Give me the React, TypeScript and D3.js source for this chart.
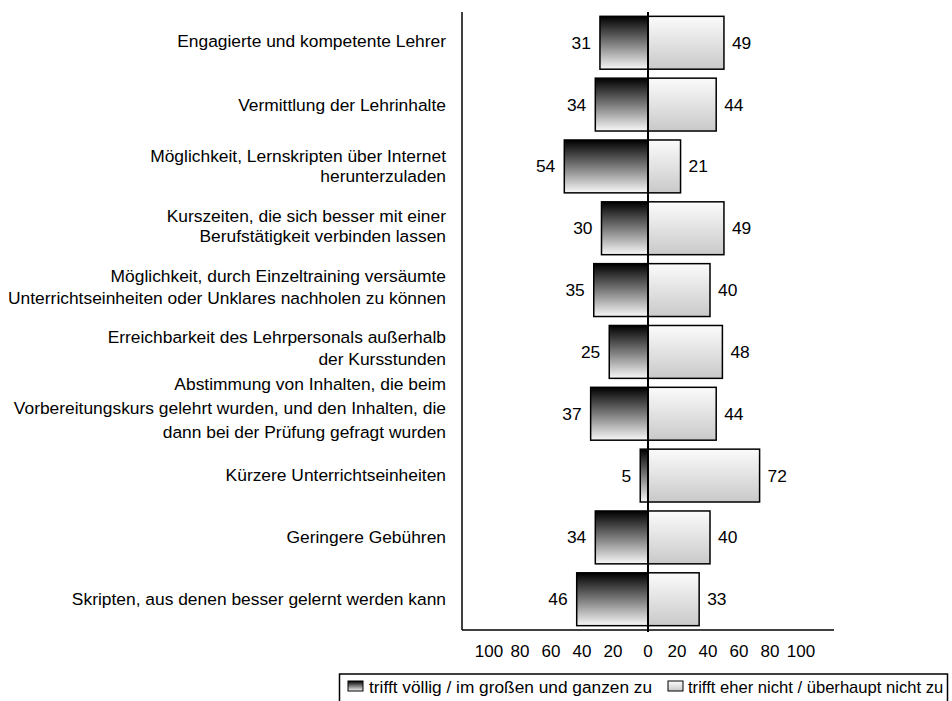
import React from "react";
import * as d3 from "d3";

const categories: string[][] = [
  ["Engagierte und kompetente Lehrer"],
  ["Vermittlung der Lehrinhalte"],
  ["Möglichkeit, Lernskripten über Internet", "herunterzuladen"],
  ["Kurszeiten, die sich besser mit einer", "Berufstätigkeit verbinden lassen"],
  ["Möglichkeit, durch Einzeltraining versäumte", "Unterrichtseinheiten oder Unklares nachholen zu können"],
  ["Erreichbarkeit des Lehrpersonals außerhalb", "der Kursstunden"],
  ["Abstimmung von Inhalten, die beim", "Vorbereitungskurs gelehrt wurden, und den Inhalten, die", "dann bei der Prüfung gefragt wurden"],
  ["Kürzere Unterrichtseinheiten"],
  ["Geringere Gebühren"],
  ["Skripten, aus denen besser gelernt werden kann"],
];
const agree: number[] = [31, 34, 54, 30, 35, 25, 37, 5, 34, 46];
const disagree: number[] = [49, 44, 21, 49, 40, 48, 44, 72, 40, 33];
const tickValues: number[] = [-100, -80, -60, -40, -20, 0, 20, 40, 60, 80, 100];
const legendLabels: string[] = [
  "trifft völlig / im großen und ganzen zu",
  "trifft eher nicht / überhaupt nicht zu",
];

// layout-only: spacing between wrapped label lines and vertical nudge per row
const lineGaps = [0, 0, 20, 20, 22, 22, 24, 0, 0, 0];
const labelNudge = [-2, 0, 0, -2, -3, -4, -6, -1, 0, 0];

const FONT = "'Liberation Sans', Arial, Helvetica, sans-serif";
const FS = 17.4;

export default function App() {
  const W = 952, H = 701;
  const x = d3.scaleLinear().domain([-120, 120]).range([462, 834]);
  const y = d3
    .scaleBand<number>()
    .domain(d3.range(categories.length))
    .range([12, 630])
    .paddingInner(0.145)
    .paddingOuter(0.07);
  const x0 = x(0);

  return (
    <svg
      width={W}
      height={H}
      style={{ position: "absolute", left: 0, top: 0, background: "#fff" }}
      fontFamily={FONT}
    >
      <defs>
        <linearGradient id="gAgree" x1="0" y1="0" x2="0" y2="1">
          <stop offset="0" stopColor="#000" />
          <stop offset="0.5" stopColor="#7a7a7a" />
          <stop offset="1" stopColor="#f8f8f8" />
        </linearGradient>
        <linearGradient id="gDis" x1="0" y1="0" x2="0" y2="1">
          <stop offset="0" stopColor="#fbfbfb" />
          <stop offset="1" stopColor="#c9c9c9" />
        </linearGradient>
      </defs>

      {categories.map((lines, i) => {
        const top = y(i)!;
        const bh = y.bandwidth();
        const cy = top + bh / 2;
        const gap = lineGaps[i];
        const n = lines.length;
        return (
          <g key={i}>
            <rect
              x={x(-agree[i])}
              y={top}
              width={x0 - x(-agree[i])}
              height={bh}
              fill="url(#gAgree)"
              stroke="#000"
              strokeWidth={1.5}
            />
            <rect
              x={x0}
              y={top}
              width={x(disagree[i]) - x0}
              height={bh}
              fill="url(#gDis)"
              stroke="#000"
              strokeWidth={1.5}
            />
            <text
              x={x(-agree[i]) - 9}
              y={cy}
              textAnchor="end"
              dominantBaseline="central"
              fontSize={FS}
              fill="#000"
            >
              {agree[i]}
            </text>
            <text
              x={x(disagree[i]) + 8}
              y={cy}
              textAnchor="start"
              dominantBaseline="central"
              fontSize={FS}
              fill="#000"
            >
              {disagree[i]}
            </text>
            {lines.map((l, j) => (
              <text
                key={j}
                x={446}
                y={cy + labelNudge[i] + (j - (n - 1) / 2) * gap}
                textAnchor="end"
                dominantBaseline="central"
                fontSize={FS}
                fill="#000"
              >
                {l}
              </text>
            ))}
          </g>
        );
      })}

      {/* axes */}
      <line x1={462} x2={462} y1={12} y2={630} stroke="#000" strokeWidth={1.5} />
      <line x1={462} x2={834} y1={630} y2={630} stroke="#000" strokeWidth={1.5} />
      <line x1={x0} x2={x0} y1={12} y2={632} stroke="#000" strokeWidth={2} />

      {tickValues.map((t, i) => (
        <text
          key={i}
          x={x(t) - (t < 0 ? 4 : t > 0 ? 2 : 0)}
          y={651}
          textAnchor="middle"
          dominantBaseline="central"
          fontSize={17}
          fill="#000"
        >
          {Math.abs(t)}
        </text>
      ))}

      {/* legend */}
      <rect x={339.5} y={674} width={608} height={30} fill="#fff" stroke="#000" strokeWidth={1.5} />
      <rect x={348} y={681} width={15} height={10} fill="url(#gAgree)" stroke="#000" strokeWidth={1} />
      <text x={369} y={687} dominantBaseline="central" fontSize={17.3} fill="#000">
        {legendLabels[0]}
      </text>
      <rect x={668} y={681} width={15} height={10} fill="url(#gDis)" stroke="#000" strokeWidth={1} />
      <text x={688} y={687} dominantBaseline="central" fontSize={16.6} fill="#000">
        {legendLabels[1]}
      </text>
    </svg>
  );
}
